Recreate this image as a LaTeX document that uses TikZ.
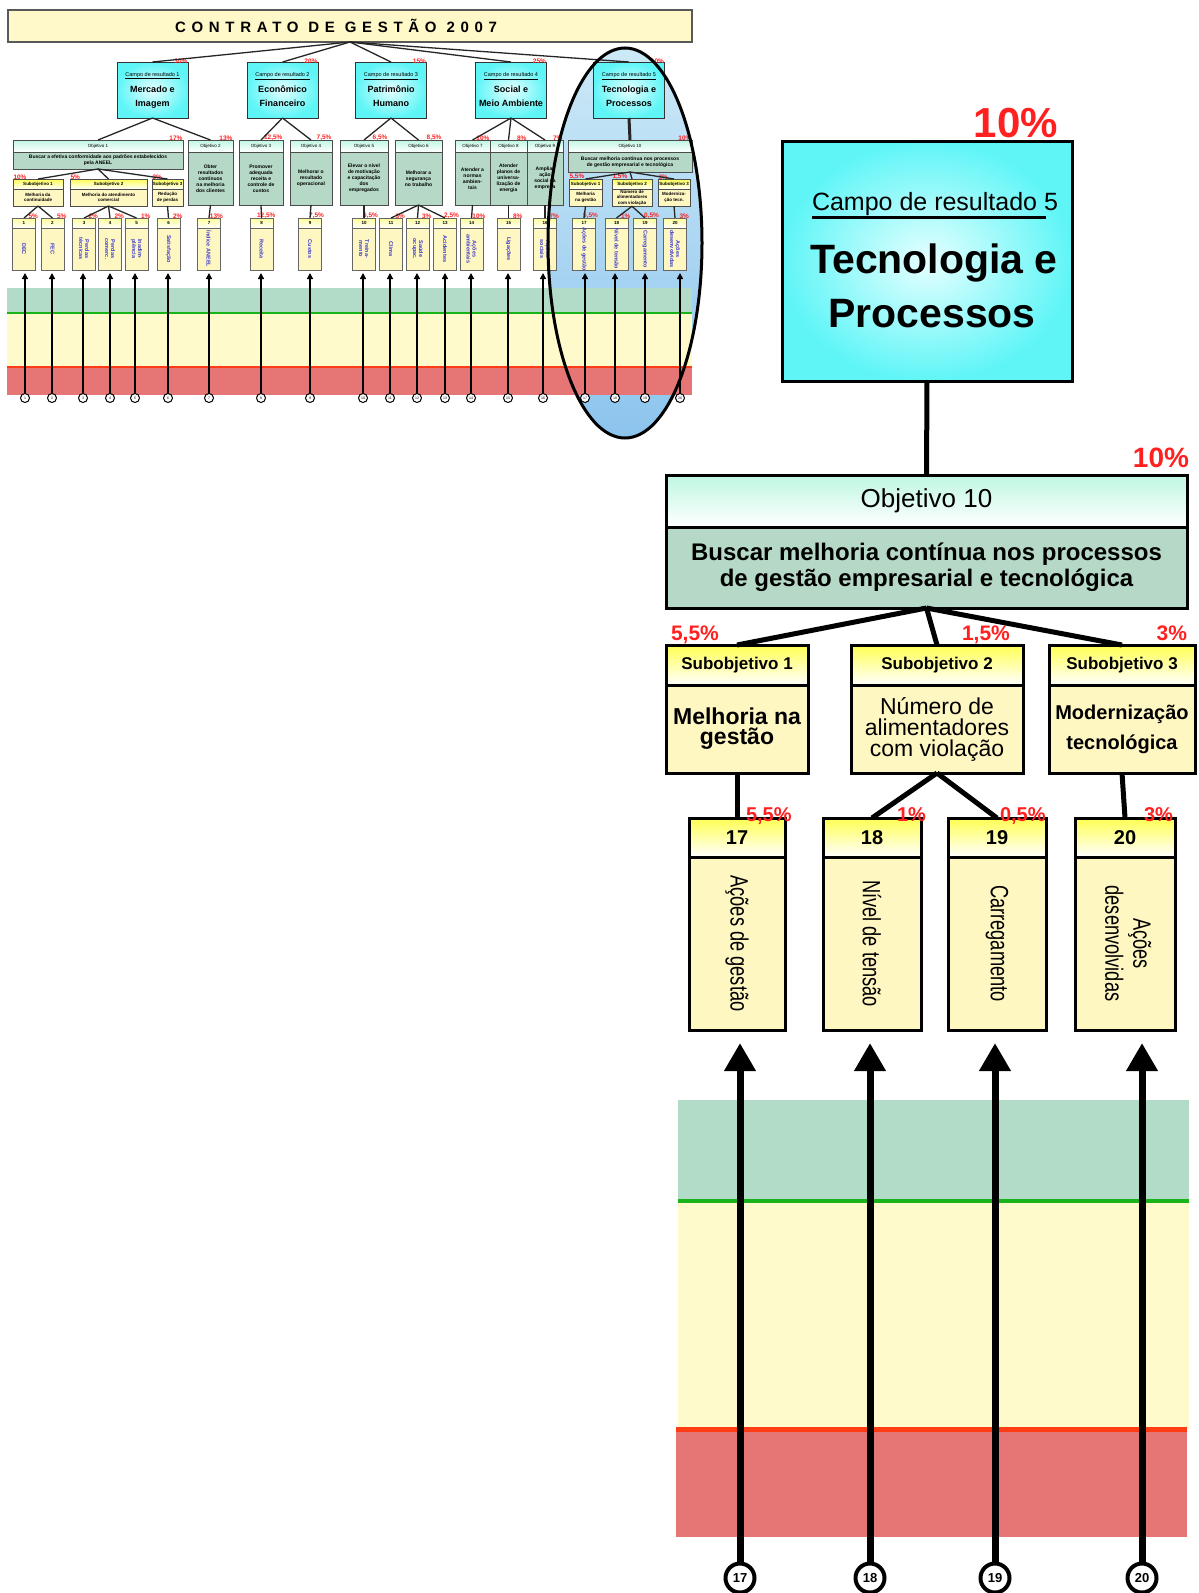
\documentclass[tikz,border=0pt]{standalone}
\usepackage{fontspec}
\setmainfont{Liberation Sans}
\usetikzlibrary{arrows.meta, positioning}
\definecolor{ciano}{HTML}{5FF5F7}
\definecolor{cianoclaro}{HTML}{E6FFFF}
\definecolor{mentatopo}{HTML}{BFF7E2}
\definecolor{verdecinza}{HTML}{B5D9C6}
\definecolor{amarelotopo}{HTML}{FFFF52}
\definecolor{amareloclaro}{HTML}{FFF7C2}
\definecolor{faixaverde}{HTML}{B3DCC8}
\definecolor{faixaamarela}{HTML}{FFFACC}
\definecolor{faixavermelha}{HTML}{E67676}
\definecolor{linhaverde}{HTML}{19B419}
\definecolor{linhavermelha}{HTML}{FF3C14}
\definecolor{pctvermelho}{HTML}{FF2020}
\definecolor{elipsetopo}{HTML}{CDE9F7}
\definecolor{elipsebase}{HTML}{8CC4EE}
\definecolor{titulofundo}{HTML}{FFF8C8}
\definecolor{azultexto}{HTML}{3A3ACC}
\newcommand{\tam}[2]{\fontsize{#1}{#2}\selectfont}

\begin{document}
\begin{tikzpicture}[x=1pt, y=-1pt, >={Triangle[length=28pt, width=30pt]},
  every node/.style={outer sep=0pt},
  % miniatura do contrato
  minititulo/.style={draw=gray!70!black, line width=1.2pt, fill=titulofundo, minimum width=684, minimum height=32},
  minicampo/.style={draw=black!80, line width=1pt, inner color=cianoclaro, outer color=ciano, minimum width=71, minimum height=56, align=center, inner sep=1pt, font=\bfseries\tam{9}{14}},
  minihead/.style={draw=black!70, line width=0.8pt, top color=mentatopo, bottom color=white, minimum height=12, font=\tam{4.5}{5}, inner sep=0pt},
  minibody/.style={draw=black!70, line width=0.8pt, fill=verdecinza, align=center, font=\bfseries\tam{5}{6}, inner sep=1pt},
  minisubcab/.style={draw=black!70, line width=0.8pt, top color=amarelotopo, bottom color=white, minimum height=10, font=\bfseries\tam{4.5}{5}, inner sep=0pt},
  minisubcorpo/.style={draw=black!70, line width=0.8pt, fill=amareloclaro, minimum height=17, align=center, font=\bfseries\tam{4.5}{5.5}, inner sep=1pt},
  miniindcab/.style={draw=black!60, line width=0.8pt, top color=amarelotopo!60, bottom color=white, minimum width=23, minimum height=10, font=\bfseries\tam{4.5}{4.5}, inner sep=0pt},
  miniindcorpo/.style={draw=black!60, line width=0.8pt, fill=amareloclaro, minimum width=23, minimum height=42, inner sep=0pt},
  minipct/.style={text=pctvermelho, font=\bfseries\tam{6.5}{7}, inner sep=0.5pt},
  minilink/.style={draw=black!85, line width=1.3pt},
  miniseta/.style={-{Triangle[length=6pt, width=6pt]}, line width=2pt},
  minimarco/.style={circle, draw, fill=white, line width=1pt, minimum size=9, inner sep=0pt, font=\tam{3.5}{4}},
  % campo 5 ampliado
  caixa/.style={draw=black, line width=3pt, inner sep=0pt},
  campobox/.style={caixa, inner color=cianoclaro, outer color=ciano},
  objcab/.style={caixa, top color=mentatopo, bottom color=white, font=\tam{26}{28}},
  objcorpo/.style={caixa, fill=verdecinza, align=center, font=\bfseries\tam{24}{26}},
  subcab/.style={caixa, top color=amarelotopo, bottom color=white, minimum height=40, font=\bfseries\tam{17}{20}},
  subcorpo/.style={caixa, fill=amareloclaro, minimum height=88, align=center},
  indcab/.style={caixa, top color=amarelotopo, bottom color=white, minimum height=39, font=\bfseries\tam{20}{22}},
  indcorpo/.style={caixa, fill=amareloclaro, minimum height=173},
  pct/.style={text=pctvermelho, inner sep=0pt},
  ligacao/.style={line width=5pt},
  seta/.style={->, line width=7pt},
  marco/.style={circle, draw, line width=4pt, fill=white, minimum size=29, inner sep=0pt, font=\bfseries\tam{13}{14}},
  vertical/.style={rotate=-90, font=\tam{25}{28}}]
\useasboundingbox (0,0) rectangle (1199,1593);

% ===== miniatura =====
\shade[top color=elipsetopo, bottom color=elipsebase] (625,243) ellipse [x radius=77pt, y radius=195pt];
\fill[faixaverde] (7,288) rectangle (692,313);
\fill[faixaamarela] (7,313) rectangle (692,367);
\fill[faixavermelha] (7,367) rectangle (692,395);
\draw[linhaverde, line width=2pt] (7,313) -- (692,313);
\draw[linhavermelha, line width=1.5pt] (7,367) -- (692,367);

\node[minititulo] (titulo) at (350,26) {};
\node[font=\bfseries\tam{15}{16}\addfontfeatures{LetterSpace=38}] (titulotxt) at (336,26) {CONTRATO DE GESTÃO 2007};

% campos de resultado
\foreach \cx/\num/\nome/\pc in {152.5/1/{Mercado e\\Imagem}/30, 282.5/2/{Econômico\\Financeiro}/20, 391/3/{Patrimônio\\Humano}/15, 511/4/{Social e\\Meio Ambiente}/25, 629/5/{Tecnologia e\\Processos}/10}{
  \node[minicampo] (mc\num) at (\cx,90) {{\mdseries\tam{5.5}{6}\underline{Campo de resultado \num}}\\[2pt]\nome};
  \node[minipct, anchor=south east] at ([yshift=-2pt]mc\num.north east) {\pc\%};
  \draw[minilink] (titulo.south) -- (mc\num.north);
}

% objetivos
\foreach \cx/\w/\h/\num/\txt/\pc in {98/170/17/1/{Buscar a efetiva conformidade aos padrões estabelecidos\\pela ANEEL}/17,
  210.5/45/53/2/{Obter\\resultados\\contínuos\\na melhoria\\dos clientes}/13,
  261/44/53/3/{Promover\\adequada\\receita e\\controle de\\custos}/12{,}5,
  311/42/53/4/{Melhorar o\\resultado\\operacional}/7{,}5,
  364/48/53/5/{Elevar o nível\\de motivação\\e capacitação\\dos\\empregados}/6{,}5,
  418.5/47/53/6/{Melhorar a\\segurança\\no trabalho}/8{,}5,
  472.5/35/53/7/{Atender a\\normas\\ambien-\\tais}/10,
  508.5/37/53/8/{Atender\\planos de\\universa-\\lização de\\energia}/8,
  545/36/53/9/{Ampliar\\ação\\social da\\empresa}/7,
  630/124/20/10/{Buscar melhoria contínua nos processos\\de gestão empresarial e tecnológica}/10}{
  \node[minihead, minimum width=\w] (oh\num) at (\cx,146) {Objetivo \num};
  \node[minibody, minimum width=\w, minimum height=\h, below=0pt of oh\num] (ob\num) {\txt};
  \node[minipct, anchor=south east] at ([yshift=-1pt]oh\num.north east) {\pc\%};
}
\foreach \a/\b in {mc1/oh1, mc1/oh2, mc2/oh3, mc2/oh4, mc3/oh5, mc3/oh6, mc4/oh7, mc4/oh8, mc4/oh9}
  \draw[minilink] (\a.south) -- (\b.north);
\draw[minilink, line width=3pt] (mc5.south) -- (oh10.north);

% subobjetivos
\foreach \nm/\cx/\w/\k/\txt/\pc in {sa1/38/50/1/{Melhoria da\\continuidade}/10, sa2/108.5/77/2/{Melhoria do atendimento\\comercial}/5, sa3/167.5/31/3/{Redução\\de perdas}/2,
  sb1/585.5/33/1/{Melhoria\\na gestão}/5{,}5, sb2/632/40/2/{Número de\\alimentadores\\com violação}/1{,}5, sb3/674/32/3/{Moderniza-\\ção tecn.}/3}{
  \node[minisubcab, minimum width=\w] (\nm) at (\cx,184) {Subobjetivo \k};
  \node[minisubcorpo, minimum width=\w, below=0pt of \nm] (\nm c) {\txt};
  \node[minipct, anchor=south west] at ([yshift=-1pt]\nm.north west) {\pc\%};
}
\foreach \a/\b in {ob1/sa1, ob1/sa2, ob1/sa3, ob10/sb1, ob10/sb2, ob10/sb3}
  \draw[minilink] (\a.south) -- (\b.north);

% indicadores
\foreach \cx/\txt/\pc [count=\k] in {24/DEC/5, 52.5/FEC/5, 84/{Perdas\\técnicas}/2, 110/{Perdas\\comerc.}/2, 136.5/{Inadim-\\plência}/1,
  168.5/Satisfação/2, 209/{Índice ANEEL}/13, 261.5/Receita/12{,}5, 310/Custos/7{,}5, 364/{Treina-\\mento}/6{,}5,
  391/Clima/3, 417.5/{Saúde\\ocupac.}/3, 445/Acidentes/2{,}5, 471.5/{Ações\\ambientais}/10, 508.5/Ligações/8,
  545/{Ações\\sociais}/7, 584/{Ações de gestão}/5{,}5, 616.5/{Nível de tensão}/1, 645/Carregamento/0{,}5, 675/{Ações\\desenvolvidas}/3}{
  \node[miniindcab] (mh\k) at (\cx,223) {\k};
  \node[miniindcorpo, below=0pt of mh\k] (mb\k) {};
  \node[rotate=-90, text=azultexto, font=\bfseries\tam{5.5}{6}, align=center] at (mb\k) {\txt};
  \node[minipct, anchor=south east] at ([xshift=3pt, yshift=-1pt]mh\k.north east) {\pc\%};
}
\foreach \a/\b in {sa1c/1, sa1c/2, sa2c/3, sa2c/4, sa2c/5, sa3c/6, ob2/7, ob3/8, ob4/9, ob5/10, ob6/11, ob6/12, ob6/13,
  ob7/14, ob8/15, ob9/16, sb1c/17, sb2c/18, sb2c/19, sb3c/20}
  \draw[minilink] (\a.south) -- (mh\b.north);

% setas da miniatura
\foreach \cx [count=\k] in {25,52,83,110,135,168,209,261,310,363,390,417,445,471,508,543,585,615,645,680}{
  \coordinate (mt\k) at (\cx,273);
  \node[minimarco] (mk\k) at (\cx,398) {\k};
  \draw[miniseta] (mk\k) -- (mt\k);
}
\draw[line width=3pt] (625,243) ellipse [x radius=77pt, y radius=195pt];

% ===== campo de resultado 5 ampliado =====
\node[campobox, minimum width=290, minimum height=240] (campo) at (927,261) {};
\node[font=\tam{25}{28}, anchor=base, inner sep=0pt] (campotit) at (935,210) {Campo de resultado 5};
\draw[line width=3pt] ([yshift=-7pt]campotit.base west) -- ([xshift=-12pt, yshift=-7pt]campotit.base east);
\node[font=\bfseries\tam{41}{44}, anchor=base] (tec1) at (934,273) {Tecnologia e};
\node[font=\bfseries\tam{41}{44}, anchor=base] (tec2) at (932,327) {Processos};
\node[pct, font=\bfseries\tam{42}{44}, anchor=base east] (p0) at (1058,137) {10\%};

% objetivo 10
\node[objcab, minimum width=521, minimum height=52] (objcab) at (926.5,501) {Objetivo 10};
\node[objcorpo, minimum width=521, minimum height=81, below=0pt of objcab] (objcorpo) {Buscar melhoria contínua nos processos\\de gestão empresarial e tecnológica};
\node[pct, font=\bfseries\tam{28}{30}, anchor=base east] (p10) at (1189,467) {10\%};
\draw[ligacao] (campo.south) -- (objcab.north);

% subobjetivos
\node[subcab, minimum width=142] (s1cab) at (737,665) {Subobjetivo 1};
\node[subcorpo, minimum width=142, below=0pt of s1cab, font=\bfseries\tam{23}{20}] (s1corpo) {Melhoria na\\gestão};
\node[subcab, minimum width=172] (s2cab) at (937,665) {Subobjetivo 2};
\node[subcorpo, minimum width=172, below=0pt of s2cab, font=\tam{23}{21}] (s2corpo) {Número de\\alimentadores\\com violação};
\node[subcab, minimum width=146] (s3cab) at (1122,665) {Subobjetivo 3};
\node[subcorpo, minimum width=146, below=0pt of s3cab, font=\bfseries\tam{20}{30}] (s3corpo) {Modernização\\tecnológica};
\node[pct, font=\bfseries\tam{21}{22}, anchor=base west] (p51) at (671,640) {5,5\%};
\node[pct, font=\bfseries\tam{21}{22}, anchor=base west] (p52) at (962,640) {1,5\%};
\node[pct, font=\bfseries\tam{21}{22}, anchor=base east] (p53) at (1187,640) {3\%};
\foreach \s in {s1cab, s2cab, s3cab}
  \draw[ligacao] (objcorpo.south) -- (\s.north);

% indicadores 17 a 20
\node[indcab, minimum width=96] (i17cab) at (737,837.5) {17};
\node[indcorpo, minimum width=96, below=0pt of i17cab] (i17) {};
\node[indcab, minimum width=98] (i18cab) at (872,837.5) {18};
\node[indcorpo, minimum width=98, below=0pt of i18cab] (i18) {};
\node[indcab, minimum width=98] (i19cab) at (997,837.5) {19};
\node[indcorpo, minimum width=98, below=0pt of i19cab] (i19) {};
\node[indcab, minimum width=100] (i20cab) at (1125,837.5) {20};
\node[indcorpo, minimum width=100, below=0pt of i20cab] (i20) {};
\node[vertical] at (i17) {\scalebox{0.73}[1]{Ações de gestão}};
\node[vertical] at (i18) {\scalebox{0.73}[1]{Nível de tensão}};
\node[vertical] at (i19) {\scalebox{0.73}[1]{Carregamento}};
\node[vertical] at (i20) {\scalebox{0.73}[1]{\begin{tabular}{@{}c@{}}Ações\\desenvolvidas\end{tabular}}};
\node[pct, font=\bfseries\tam{20}{22}, anchor=base west] (p17) at (746,821) {5,5\%};
\node[pct, font=\bfseries\tam{20}{22}, anchor=base west] (p18) at (897,821) {1\%};
\node[pct, font=\bfseries\tam{20}{22}, anchor=base west] (p19) at (1000,821) {0,5\%};
\node[pct, font=\bfseries\tam{20}{22}, anchor=base west] (p20) at (1144,821) {3\%};
\draw[ligacao] (s1corpo.south) -- (i17cab.north);
\draw[ligacao] (s2corpo.south) -- (i18cab.north);
\draw[ligacao] (s2corpo.south) -- (i19cab.north);
\draw[ligacao] (s3corpo.south) -- (i20cab.north);

% faixas de desempenho
\fill[faixaverde] (678,1100) rectangle (1189,1201);
\fill[faixaamarela] (678,1201) rectangle (1189,1429);
\fill[faixavermelha] (676,1429) rectangle (1187,1537);
\draw[linhaverde, line width=4pt] (678,1201) -- (1189,1201);
\draw[linhavermelha, line width=5pt] (676,1429) -- (1187,1429);

% setas dos indicadores
\foreach \cx/\k in {740/17, 870/18, 995/19, 1142/20}{
  \coordinate (t\k) at (\cx,1043);
  \node[marco] (m\k) at (\cx,1578) {\k};
  \draw[seta] (m\k.north) -- (t\k);
}
\end{tikzpicture}
\end{document}
